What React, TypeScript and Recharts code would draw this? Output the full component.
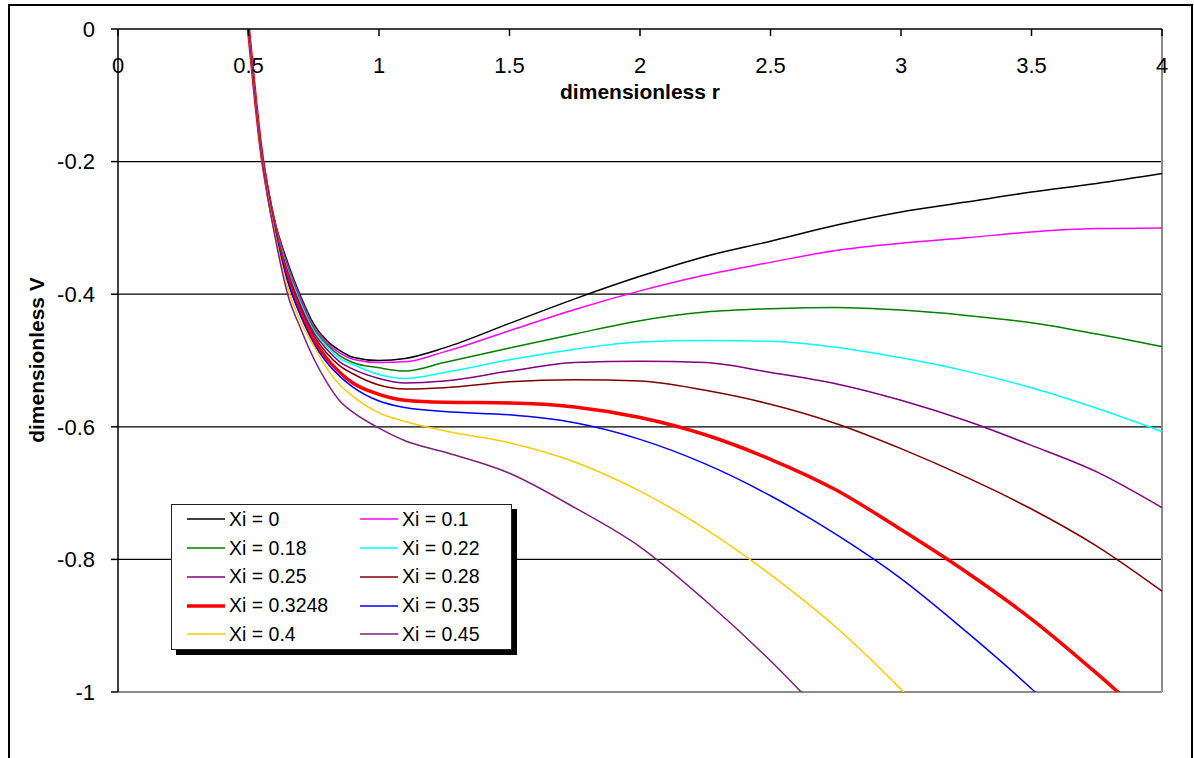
import React from "react";
import { LineChart, Line, XAxis, YAxis, CartesianGrid, ReferenceLine, Legend } from "recharts";

const rValues = [0.5, 0.525, 0.55, 0.575, 0.6, 0.65, 0.7, 0.75, 0.8, 0.85, 0.9, 1.0, 1.1, 1.25, 1.5, 1.75, 2.0, 2.25, 2.5, 2.75, 3.0, 3.25, 3.5, 3.75, 4.0];

const xi0 = [0, -0.1, -0.182, -0.24, -0.288, -0.352, -0.403, -0.445, -0.47, -0.485, -0.495, -0.5, -0.497, -0.481, -0.444, -0.407, -0.373, -0.343, -0.32, -0.296, -0.276, -0.261, -0.246, -0.233, -0.218];
const xi01 = [0, -0.1, -0.183, -0.242, -0.29, -0.356, -0.407, -0.449, -0.473, -0.489, -0.498, -0.503, -0.502, -0.487, -0.455, -0.423, -0.395, -0.371, -0.352, -0.334, -0.323, -0.315, -0.306, -0.301, -0.3];
const xi018 = [0, -0.1, -0.184, -0.244, -0.292, -0.36, -0.411, -0.452, -0.476, -0.493, -0.503, -0.511, -0.516, -0.503, -0.481, -0.46, -0.44, -0.427, -0.422, -0.42, -0.424, -0.432, -0.443, -0.46, -0.479];
const xi022 = [0, -0.1, -0.184, -0.245, -0.294, -0.363, -0.414, -0.455, -0.479, -0.497, -0.506, -0.521, -0.527, -0.518, -0.499, -0.483, -0.472, -0.47, -0.471, -0.48, -0.496, -0.516, -0.541, -0.572, -0.607];
const xi025 = [0, -0.1, -0.185, -0.246, -0.296, -0.366, -0.418, -0.458, -0.483, -0.502, -0.513, -0.527, -0.534, -0.531, -0.516, -0.503, -0.501, -0.503, -0.518, -0.535, -0.56, -0.591, -0.628, -0.668, -0.722];
const xi028 = [0, -0.1, -0.186, -0.247, -0.298, -0.37, -0.422, -0.462, -0.489, -0.508, -0.52, -0.537, -0.543, -0.541, -0.532, -0.529, -0.531, -0.545, -0.566, -0.595, -0.633, -0.676, -0.724, -0.78, -0.848];
const xi03248 = [0, -0.1, -0.187, -0.249, -0.3, -0.375, -0.428, -0.468, -0.497, -0.518, -0.534, -0.551, -0.56, -0.563, -0.564, -0.57, -0.586, -0.612, -0.649, -0.695, -0.755, -0.819, -0.89, -0.972, -1.06];
const xi035 = [0, -0.1, -0.188, -0.25, -0.302, -0.38, -0.433, -0.474, -0.503, -0.524, -0.54, -0.561, -0.571, -0.577, -0.582, -0.594, -0.619, -0.656, -0.704, -0.762, -0.829, -0.909, -0.995, -1.09, null];
const xi04 = [0, -0.1, -0.19, -0.253, -0.306, -0.39, -0.442, -0.478, -0.512, -0.537, -0.554, -0.579, -0.592, -0.606, -0.624, -0.653, -0.697, -0.754, -0.823, -0.902, -0.996, -1.1, null, null, null];
const xi045 = [0, -0.1, -0.191, -0.256, -0.31, -0.4, -0.452, -0.497, -0.533, -0.561, -0.578, -0.602, -0.621, -0.638, -0.67, -0.722, -0.781, -0.862, -0.953, -1.055, null, null, null, null, null];

const xTicks = [0, 0.5, 1, 1.5, 2, 2.5, 3, 3.5, 4];
const yTicks = [0, -0.2, -0.4, -0.6, -0.8, -1];
const gridValues = [-0.2, -0.4, -0.6, -0.8];

const series = [
  { key: "a", label: "Xi = 0", values: xi0, color: "#000000", width: 1.5 },
  { key: "b", label: "Xi = 0.1", values: xi01, color: "#ff00ff", width: 1.5 },
  { key: "c", label: "Xi = 0.18", values: xi018, color: "#008000", width: 1.5 },
  { key: "d", label: "Xi = 0.22", values: xi022, color: "#00ffff", width: 1.5 },
  { key: "e", label: "Xi = 0.25", values: xi025, color: "#800080", width: 1.5 },
  { key: "f", label: "Xi = 0.28", values: xi028, color: "#800000", width: 1.5 },
  { key: "g", label: "Xi = 0.3248", values: xi03248, color: "#ff0000", width: 3.5 },
  { key: "h", label: "Xi = 0.35", values: xi035, color: "#0000ff", width: 1.5 },
  { key: "i", label: "Xi = 0.4", values: xi04, color: "#ffcc00", width: 1.5 },
  { key: "j", label: "Xi = 0.45", values: xi045, color: "#7f1f7f", width: 1.5 },
];

const data = rValues.map((r, i) => {
  const row: Record<string, number | null> = { r };
  series.forEach((s) => {
    row[s.key] = s.values[i];
  });
  return row;
});

const FONT = "'Liberation Sans', Arial, sans-serif";

const renderLegend = () => (
  <div
    style={{
      boxSizing: "border-box",
      width: 341,
      height: 146,
      background: "#fff",
      border: "1px solid #222",
      boxShadow: "5px 5px 0 #000",
      display: "grid",
      gridTemplateColumns: "173px 173px",
      gridAutoRows: "28.75px",
      paddingLeft: 15,
      fontFamily: FONT,
      fontSize: 19.5,
      color: "#000",
    }}
  >
    {series.map((s) => (
      <div key={s.key} style={{ display: "flex", alignItems: "center" }}>
        <svg width={38} height={6} style={{ marginRight: 4 }}>
          <line x1={0} y1={3} x2={38} y2={3} stroke={s.color} strokeWidth={s.width} />
        </svg>
        <span style={{ whiteSpace: "nowrap" }}>{s.label}</span>
      </div>
    ))}
  </div>
);

export default function App() {
  return (
    <div style={{ position: "absolute", left: 0, top: 0, width: 1194, height: 758, overflow: "hidden", background: "#fff" }}>
      <div
        style={{
          position: "absolute",
          left: 8,
          top: 4,
          width: 1185,
          height: 820,
          boxSizing: "border-box",
          border: "2px solid #000",
        }}
      />
      <div style={{ position: "absolute", left: 0, top: 0 }}>
        <LineChart width={1194} height={758} data={data} margin={{ top: 29, right: 32, bottom: 66, left: 0 }}>
          <CartesianGrid horizontal={false} vertical={false} />
          {gridValues.map((v) => (
            <ReferenceLine key={v} y={v} stroke="#000" strokeWidth={1.2} />
          ))}
          <ReferenceLine y={-1} stroke="#8c8c8c" strokeWidth={2} />
          <ReferenceLine x={4} stroke="#8c8c8c" strokeWidth={2} />
          <XAxis
            dataKey="r"
            type="number"
            domain={[0, 4]}
            ticks={xTicks}
            orientation="top"
            mirror
            height={40}
            tickSize={7}
            tickMargin={21}
            interval={0}
            stroke="#000"
            strokeWidth={1.5}
            tick={{ fill: "#000", fontSize: 22, fontFamily: FONT }}
          />
          <YAxis
            type="number"
            domain={[-1, 0]}
            ticks={yTicks}
            allowDataOverflow
            width={118}
            tickSize={7}
            tickMargin={16}
            interval={0}
            stroke="#000"
            strokeWidth={1.5}
            tick={{ fill: "#000", fontSize: 22, fontFamily: FONT }}
          />
          {series.map((s) => (
            <Line
              key={s.key}
              dataKey={s.key}
              name={s.label}
              type="monotone"
              stroke={s.color}
              strokeWidth={s.width}
              dot={false}
              activeDot={false}
              isAnimationActive={false}
            />
          ))}
          <Legend
            layout="horizontal"
            verticalAlign="middle"
            align="center"
            content={renderLegend}
            wrapperStyle={{ left: 171, top: 504, width: 341, height: 146 }}
          />
        </LineChart>
      </div>
      <div
        style={{
          position: "absolute",
          left: 440,
          width: 400,
          top: 79,
          textAlign: "center",
          fontFamily: FONT,
          fontWeight: "bold",
          fontSize: 21,
          lineHeight: "26px",
        }}
      >
        dimensionless r
      </div>
      <div
        style={{
          position: "absolute",
          left: 37,
          top: 360,
          transform: "translate(-50%, -50%) rotate(-90deg)",
          fontFamily: FONT,
          fontWeight: "bold",
          fontSize: 21,
          lineHeight: "26px",
          whiteSpace: "nowrap",
        }}
      >
        dimensionless V
      </div>
    </div>
  );
}
